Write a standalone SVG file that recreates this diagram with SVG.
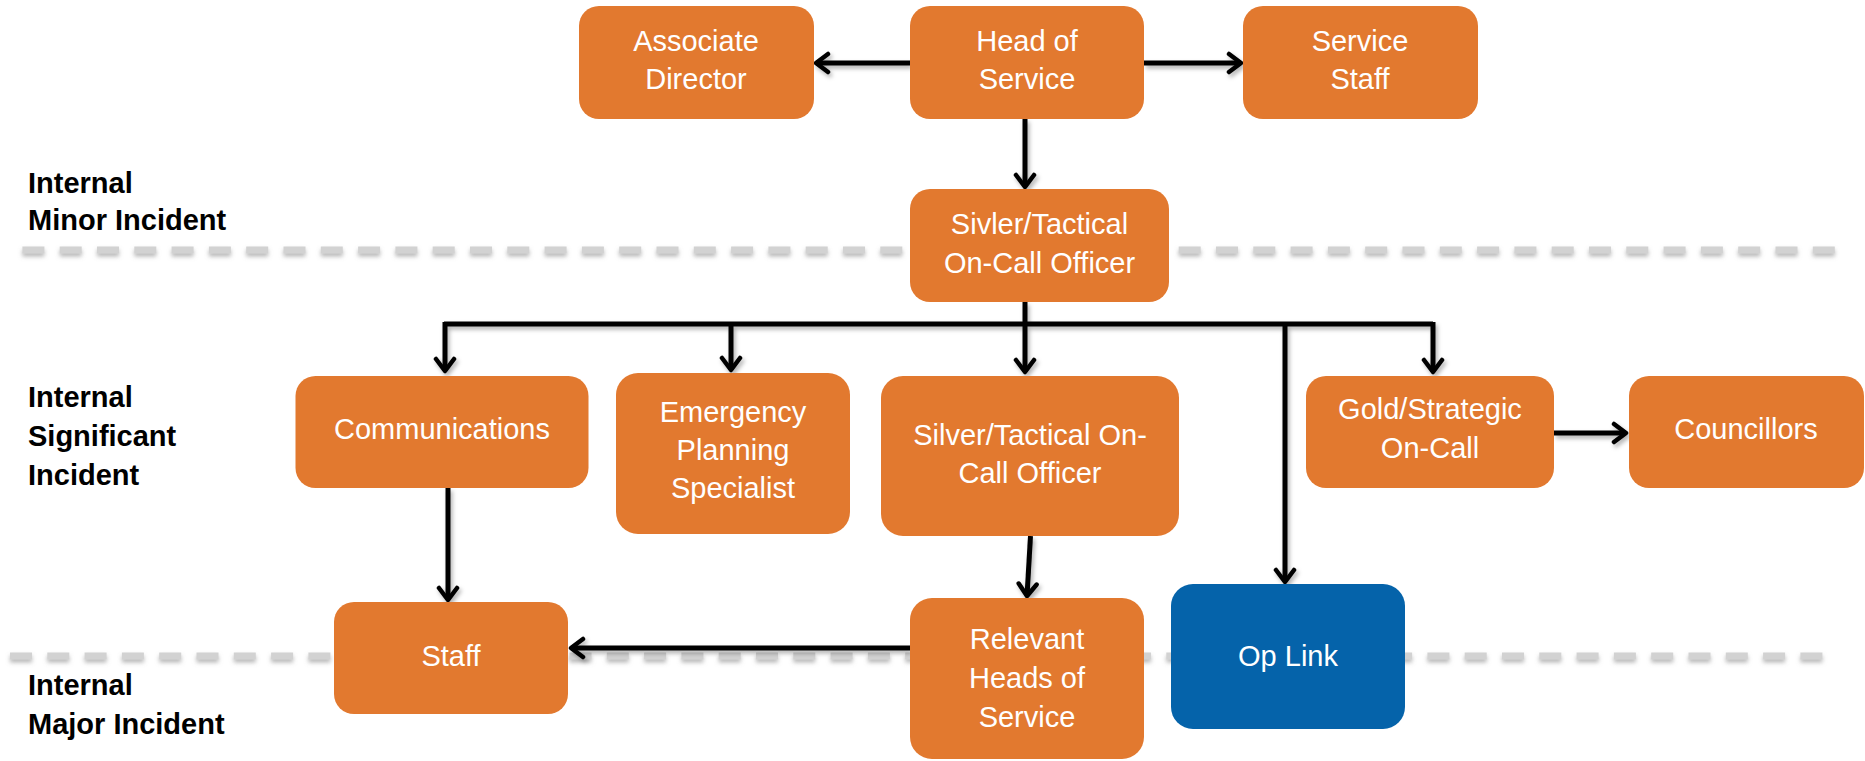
<svg xmlns="http://www.w3.org/2000/svg" width="1865" height="761" viewBox="0 0 1865 761">
<defs>
<style>
.node{fill:#E2792F}
.blue{fill:#0563AA}
.nt{font-family:"Liberation Sans",Arial,sans-serif;font-size:29px;fill:#ffffff;text-anchor:middle}
.lbl{font-family:"Liberation Sans",Arial,sans-serif;font-size:29px;font-weight:bold;fill:#000000}
.conn{fill:none;stroke:#000000;stroke-width:5}
.dash{stroke:#d2d2d2;stroke-width:7;stroke-dasharray:22 15.3;fill:none}
</style>
<marker id="arr" viewBox="0 0 24 24" refX="20" refY="12" markerWidth="24" markerHeight="24" markerUnits="userSpaceOnUse" orient="auto">
<path d="M8,3 L20,12 L8,21" fill="none" stroke="#000" stroke-width="4.5" stroke-linecap="round" stroke-linejoin="round"/>
</marker>
<filter id="sh" x="-10%" y="-10%" width="130%" height="140%">
<feDropShadow dx="2" dy="3" stdDeviation="2" flood-color="#000" flood-opacity="0.3"/>
</filter>
<filter id="dsh" x="-5%" y="-200%" width="110%" height="500%">
<feDropShadow dx="0" dy="3" stdDeviation="2" flood-color="#888" flood-opacity="0.6"/>
</filter>
</defs>
<rect width="1865" height="761" fill="#ffffff"/>
<g id="separators" filter="url(#dsh)">
<line class="dash" x1="22.4" y1="250" x2="1840" y2="250"/>
<line class="dash" x1="10" y1="656" x2="1830" y2="656"/>
</g>
<g id="labels">
<text class="lbl" x="28" y="193">Internal</text>
<text class="lbl" x="28" y="230">Minor Incident</text>
<text class="lbl" x="28" y="407">Internal</text>
<text class="lbl" x="28" y="446">Significant</text>
<text class="lbl" x="28" y="485">Incident</text>
<text class="lbl" x="28" y="695">Internal</text>
<text class="lbl" x="28" y="734">Major Incident</text>
</g>
<g id="connectors" filter="url(#sh)">
<line class="conn" x1="910" y1="63" x2="816" y2="63" marker-end="url(#arr)"/>
<line class="conn" x1="1144" y1="63" x2="1241" y2="63" marker-end="url(#arr)"/>
<line class="conn" x1="1025" y1="119" x2="1025" y2="187" marker-end="url(#arr)"/>
<path class="conn" d="M1025,302 L1025,324"/>
<path class="conn" d="M444,324 L1433,324"/>
<line class="conn" x1="445" y1="322" x2="445" y2="371" marker-end="url(#arr)"/>
<line class="conn" x1="731" y1="324" x2="731" y2="370" marker-end="url(#arr)"/>
<line class="conn" x1="1025" y1="324" x2="1025" y2="372" marker-end="url(#arr)"/>
<line class="conn" x1="1285" y1="324" x2="1285" y2="582" marker-end="url(#arr)"/>
<line class="conn" x1="1433" y1="322" x2="1433" y2="372" marker-end="url(#arr)"/>
<line class="conn" x1="1554" y1="433" x2="1626" y2="433" marker-end="url(#arr)"/>
<line class="conn" x1="448" y1="488" x2="448" y2="600" marker-end="url(#arr)"/>
<line class="conn" x1="1030.5" y1="536" x2="1027" y2="596" marker-end="url(#arr)"/>
<line class="conn" x1="910" y1="648" x2="571" y2="648" marker-end="url(#arr)"/>
</g>
<g id="n-associate">
<rect class="node" x="579" y="6" width="235" height="113" rx="20"/>
<text class="nt" x="696" y="51">Associate</text>
<text class="nt" x="696" y="89">Director</text>
</g>
<g id="n-head">
<rect class="node" x="910" y="6" width="234" height="113" rx="20"/>
<text class="nt" x="1027" y="51">Head of</text>
<text class="nt" x="1027" y="89">Service</text>
</g>
<g id="n-servicestaff">
<rect class="node" x="1243" y="6" width="235" height="113" rx="20"/>
<text class="nt" x="1360" y="51">Service</text>
<text class="nt" x="1360" y="89">Staff</text>
</g>
<g id="n-sivler">
<rect class="node" x="910" y="189" width="259" height="113" rx="20"/>
<text class="nt" x="1039.5" y="234">Sivler/Tactical</text>
<text class="nt" x="1039.5" y="273">On-Call Officer</text>
</g>
<g id="n-comms">
<rect class="node" x="295.5" y="376" width="293" height="112" rx="20"/>
<text class="nt" x="442" y="439">Communications</text>
</g>
<g id="n-emergency">
<rect class="node" x="616" y="373" width="234" height="161" rx="22"/>
<text class="nt" x="733" y="422">Emergency</text>
<text class="nt" x="733" y="460">Planning</text>
<text class="nt" x="733" y="498">Specialist</text>
</g>
<g id="n-silver">
<rect class="node" x="881" y="376" width="298" height="160" rx="22"/>
<text class="nt" x="1030" y="445">Silver/Tactical On-</text>
<text class="nt" x="1030" y="483">Call Officer</text>
</g>
<g id="n-gold">
<rect class="node" x="1306" y="376" width="248" height="112" rx="20"/>
<text class="nt" x="1430" y="419">Gold/Strategic</text>
<text class="nt" x="1430" y="458">On-Call</text>
</g>
<g id="n-councillors">
<rect class="node" x="1629" y="376" width="235" height="112" rx="20"/>
<text class="nt" x="1746" y="439">Councillors</text>
</g>
<g id="n-staff">
<rect class="node" x="334" y="602" width="234" height="112" rx="20"/>
<text class="nt" x="451" y="666">Staff</text>
</g>
<g id="n-relevant">
<rect class="node" x="910" y="598" width="234" height="161" rx="22"/>
<text class="nt" x="1027" y="649">Relevant</text>
<text class="nt" x="1027" y="688">Heads of</text>
<text class="nt" x="1027" y="727">Service</text>
</g>
<g id="n-oplink">
<rect class="blue" x="1171" y="584" width="234" height="145" rx="22"/>
<text class="nt" x="1288" y="666">Op Link</text>
</g>
</svg>
